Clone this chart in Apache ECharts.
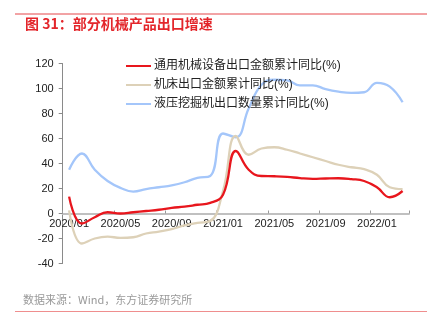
<!DOCTYPE html>
<html>
<head>
<meta charset="utf-8">
<script src="https://cdn.jsdelivr.net/npm/echarts@6/dist/echarts.min.js"></script>
<style>
html,body{margin:0;padding:0;background:#fff;}
#c{width:435px;height:328px;}
</style>
</head>
<body>
<div id="c"></div>
<script>
var categories = ['2020/01','2020/02','2020/03','2020/04','2020/05','2020/06','2020/07','2020/08','2020/09','2020/10','2020/11','2020/12',
  '2021/01','2021/02','2021/03','2021/04','2021/05','2021/06','2021/07','2021/08','2021/09','2021/10','2021/11','2021/12',
  '2022/01','2022/02','2022/03'];
var seriesNames = ['通用机械设备出口金额累计同比(%)','机床出口金额累计同比(%)','液压挖掘机出口数量累计同比(%)'];
var generalMachinery = [13.5,-8,-3,1,0,1,2,3,4.5,5.5,7,8.5,15,50,35,30,29.8,29.3,28.3,27.7,28,28.2,27.5,26,21,13,18];
var machineTools = [2.5,-24,-20,-18.5,-19.5,-19,-16,-14.5,-12.5,-9.5,-7.5,-6,18,62,47,52,53,51,48,45,42,39,37,35.5,31,21,19.5];
var excavators = [35,48,35,26,20.5,17.5,19.5,21,22.5,25,28.5,30,64,61,84,103,107,106.5,102.5,102.5,99.5,97.5,96.5,97,104.5,101.5,89];
var yTicks = {min:-40, max:120, interval:20};
var titleText = '图 31：部分机械产品出口增速';
var sourceText = '数据来源：Wind，东方证券研究所';

var FONT = '"Liberation Sans", Arial, "Noto Sans CJK SC", sans-serif';
var colors = ['#e8161d','#ddd1b8','#a4c6fa'];
var chart = echarts.init(document.getElementById('c'), null, {renderer:'canvas'});
chart.setOption({
  animation:false,
  backgroundColor:'#fff',
  color: colors,
  textStyle:{fontFamily:FONT},
  graphic:[
    {type:'line', shape:{x1:15,y1:14,x2:427,y2:14}, style:{stroke:'#e5474a',lineWidth:1}},
    {type:'text', left:25, top:17, style:{text:titleText, font:'bold 14px "Noto Sans CJK SC", sans-serif', fill:'#e3262b'}},
    {type:'line', shape:{x1:15,y1:311.5,x2:427,y2:311.5}, style:{stroke:'#ef8e8e',lineWidth:1.2}},
    {type:'text', left:23, top:294, style:{text:sourceText, font:'11px "Noto Sans CJK SC", sans-serif', fill:'#999'}}
  ],
  legend:{
    orient:'vertical', left:121, top:55,
    icon:'rect', itemWidth:25, itemHeight:2, itemGap:7,
    textStyle:{fontSize:12, color:'#222', fontFamily:FONT, padding:[0,0,0,-2]},
    data: seriesNames
  },
  grid:{left:62.7, right:26, top:63.5, bottom:64.5, containLabel:false},
  xAxis:{
    type:'category', data:categories, boundaryGap:true,
    position:'bottom', offset:-50,
    axisLine:{onZero:false, lineStyle:{color:'#c0c0c0', width:2}},
    axisTick:{show:true, inside:true, interval:3, length:3, lineStyle:{color:'#999'}},
    axisLabel:{interval:3, fontSize:11, color:'#222', margin:5, fontFamily:FONT},
    splitLine:{show:false}
  },
  yAxis:{
    type:'value', min:yTicks.min, max:yTicks.max, interval:yTicks.interval,
    axisLine:{show:true, lineStyle:{color:'#8a8a8a', width:1}},
    axisTick:{show:true, length:4, lineStyle:{color:'#8a8a8a'}},
    axisLabel:{fontSize:11, color:'#222', margin:9, fontFamily:FONT},
    splitLine:{show:false}
  },
  series:[
    {name:seriesNames[0], type:'line', data:generalMachinery, smooth:0.45, symbol:'none', z:4, lineStyle:{width:2.3, color:colors[0]}},
    {name:seriesNames[1], type:'line', data:machineTools, smooth:0.45, symbol:'none', z:3, lineStyle:{width:2.3, color:colors[1]}},
    {name:seriesNames[2], type:'line', data:excavators, smooth:0.45, symbol:'none', z:2, lineStyle:{width:2.3, color:colors[2]}}
  ]
});
</script>
</body>
</html>
